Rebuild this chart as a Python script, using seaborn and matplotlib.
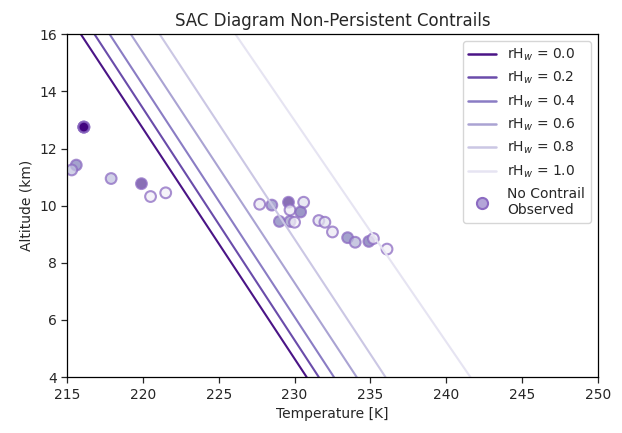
import numpy as np
import pandas as pd
import matplotlib
matplotlib.use("Agg")
import matplotlib.pyplot as plt
import seaborn as sns
from matplotlib.lines import Line2D

# SAC threshold lines: temperature at the bottom (4 km) and top (16 km) of the plot
rh_levels = [0.0, 0.2, 0.4, 0.6, 0.8, 1.0]
alt_ends = [4.0, 16.0]
temp_bottom = [230.8, 231.6, 232.6, 234.1, 236.0, 241.6]
temp_top = [215.9, 216.8, 217.8, 219.2, 221.1, 226.1]

# observations with no contrail (temperature, altitude, relative humidity shade)
# the point near 216 K / 12.75 km holds several overlapping observations
obs_temp = [216.1, 216.1, 216.1, 215.6, 215.3, 217.9, 219.9, 220.5, 221.5,
            227.7, 228.5, 229.6, 230.6, 229.7, 230.4, 229.0, 229.7, 230.0,
            231.6, 232.0, 232.5, 233.5, 234.0, 234.9, 235.2, 236.1]
obs_alt = [12.75, 12.75, 12.75, 11.42, 11.25, 10.95, 10.77, 10.32, 10.45,
           10.05, 10.02, 10.12, 10.12, 9.85, 9.78, 9.45, 9.45, 9.42,
           9.48, 9.42, 9.08, 8.88, 8.72, 8.75, 8.85, 8.48]
obs_rh = [1.0, 1.0, 1.0, 0.6, 0.35, 0.35, 0.8, 0.1, 0.1,
          0.15, 0.55, 0.8, 0.2, 0.15, 0.65, 0.6, 0.5, 0.1,
          0.2, 0.2, 0.15, 0.6, 0.4, 0.65, 0.1, 0.1]

line_colors = ["#4a1486", "#6a4caa", "#8a7cc4", "#aaa3d3", "#cbc7e4", "#e6e4f2"]

rows = []
for rh, tb, tt in zip(rh_levels, temp_bottom, temp_top):
    lab = r"rH$_w$ = %.1f" % rh
    rows.append((lab, tb, alt_ends[0]))
    rows.append((lab, tt, alt_ends[1]))
df_lines = pd.DataFrame(rows, columns=["label", "temp", "alt"])
df_obs = pd.DataFrame({"temp": obs_temp, "alt": obs_alt, "rh": obs_rh})

sns.set_style("white")
plt.rcParams["font.family"] = ["DejaVu Sans"]
fig, ax = plt.subplots(figsize=(6.22, 4.33), dpi=100)
fig.subplots_adjust(left=0.108, right=0.961, top=0.921, bottom=0.129)

sns.lineplot(data=df_lines, x="temp", y="alt", hue="label", palette=line_colors,
             sort=False, linewidth=1.5, ax=ax, legend=False)
sns.scatterplot(data=df_obs, x="temp", y="alt", hue="rh", palette="Purples",
                hue_norm=(0, 1), s=60, alpha=0.75, edgecolor="#8c6bc2",
                linewidth=1.5, ax=ax, legend=False)

ax.set_xlim(215, 250)
ax.set_ylim(4, 16)
ax.set_title("SAC Diagram Non-Persistent Contrails", fontsize=12)
ax.set_xlabel("Temperature [K]")
ax.set_ylabel("Altitude (km)")
for sp in ax.spines.values():
    sp.set_visible(True)
    sp.set_color("black")
    sp.set_linewidth(0.9)
ax.tick_params(axis="both", direction="out", length=4, width=0.9, bottom=True, left=True,
               labelsize=10)

handles = [Line2D([0], [0], color=c, lw=1.8) for c in line_colors]
handles.append(Line2D([0], [0], marker="o", ls="", markersize=8,
                      markerfacecolor="#b3a5d8", markeredgecolor="#8c6bc2", markeredgewidth=1.5))
labels = [r"rH$_w$ = %.1f" % rh for rh in rh_levels] + ["No Contrail\nObserved"]
ax.legend(handles, labels, loc="upper right", fontsize=10, frameon=True)

fig.savefig("out.png", dpi=100)
